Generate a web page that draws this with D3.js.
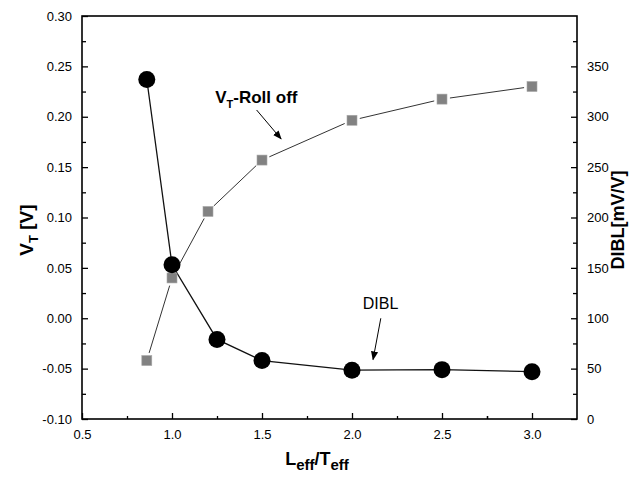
<!DOCTYPE html>
<html>
<head>
<meta charset="utf-8">
<script src="https://cdn.jsdelivr.net/npm/d3@7"></script>
<style>
  body { margin: 0; background: #fff; }
  svg { display: block; font-family: "Liberation Sans", Arial, sans-serif; }
</style>
</head>
<body>
<div id="chart"></div>
<script>
(function () {
    // data
    var vtX = [0.86, 1.0, 1.2, 1.5, 2.0, 2.5, 3.0]
    var vtVals = [-0.042, 0.040, 0.106, 0.157, 0.1965, 0.2175, 0.230]
    var diblX = [0.86, 1.0, 1.25, 1.5, 2.0, 2.5, 3.0]
    var diblVals = [337, 153, 79, 58, 48.5, 49, 47]

    var xTicks = [0.5, 1.0, 1.5, 2.0, 2.5, 3.0]
    var leftTicks = [-0.10, -0.05, 0.00, 0.05, 0.10, 0.15, 0.20, 0.25, 0.30]
    var rightTicks = [0, 50, 100, 150, 200, 250, 300, 350]

    var width = 637
    var height = 477
    var margin = { top: 16, right: 60, bottom: 58, left: 82 }
    var w = width - margin.left - margin.right
    var h = height - margin.top - margin.bottom

    var svg = d3.select("#chart")
        .append("svg")
        .attr("width", width)
        .attr("height", height)

    var g = svg.append("g")
        .attr("transform", "translate(" + margin.left + "," + margin.top + ")")

    var x = d3.scaleLinear().domain([0.5, 3.25]).range([0, w])
    var yL = d3.scaleLinear().domain([-0.10, 0.30]).range([h, 0])
    var yR = d3.scaleLinear().domain([0, 400]).range([h, 0])

    // minor ticks halfway between the major ones
    function halves(arr, last) {
        var out = []
        for (var i = 0; i < arr.length - 1; i++) out.push((arr[i] + arr[i + 1]) / 2)
        if (last !== undefined) out.push(last)
        return out
    }

    var fontSize = "13px"

    // bottom axis
    g.append("g")
        .attr("transform", "translate(0," + h + ")")
        .call(d3.axisBottom(x).tickValues(xTicks).tickSize(-6).tickSizeOuter(0)
            .tickPadding(11).tickFormat(function (d) { return d.toFixed(1) }))
        .call(function (a) { a.select(".domain").remove() })
    g.append("g")
        .attr("transform", "translate(0," + h + ")")
        .call(d3.axisBottom(x).tickValues(halves(xTicks, 3.25 - 0.0001).slice(0, -1).concat([2.75])).tickSize(-3).tickFormat(""))
        .call(function (a) { a.select(".domain").remove() })

    // left axis
    g.append("g")
        .call(d3.axisLeft(yL).tickValues(leftTicks).tickSize(-6).tickSizeOuter(0)
            .tickPadding(10).tickFormat(function (d) { return d.toFixed(2) }))
        .call(function (a) { a.select(".domain").remove() })
    g.append("g")
        .call(d3.axisLeft(yL).tickValues(halves(leftTicks)).tickSize(-4).tickFormat(""))
        .call(function (a) { a.select(".domain").remove() })

    // right axis
    g.append("g")
        .attr("transform", "translate(" + w + ",0)")
        .call(d3.axisRight(yR).tickValues(rightTicks).tickSize(-6).tickSizeOuter(0)
            .tickPadding(10).tickFormat(d3.format("d")))
        .call(function (a) { a.select(".domain").remove() })
    g.append("g")
        .attr("transform", "translate(" + w + ",0)")
        .call(d3.axisRight(yR).tickValues(halves(rightTicks, 375)).tickSize(-4).tickFormat(""))
        .call(function (a) { a.select(".domain").remove() })

    g.selectAll(".tick line").attr("stroke", "#000").attr("stroke-width", 1.3)
    g.selectAll(".tick text")
        .attr("fill", "#000")
        .style("font-size", fontSize)
        .style("font-family", "'Liberation Sans', Arial, sans-serif")

    // frame
    g.append("rect")
        .attr("width", w)
        .attr("height", h)
        .attr("fill", "none")
        .attr("stroke", "#000")
        .attr("stroke-width", 1.6)

    // VT roll off line: segments with gaps at the squares
    var vtPts = vtX.map(function (d, i) { return [x(d), yL(vtVals[i])] })
    var gap = 8
    for (var i = 0; i < vtPts.length - 1; i++) {
        var p = vtPts[i], q = vtPts[i + 1]
        var dx = q[0] - p[0], dy = q[1] - p[1]
        var len = Math.sqrt(dx * dx + dy * dy)
        var ux = dx / len, uy = dy / len
        g.append("line")
            .attr("x1", p[0] + ux * gap).attr("y1", p[1] + uy * gap)
            .attr("x2", q[0] - ux * gap).attr("y2", q[1] - uy * gap)
            .attr("stroke", "#333")
            .attr("stroke-width", 1)
    }

    // DIBL line
    var diblLine = d3.line()
        .x(function (d) { return x(d[0]) })
        .y(function (d) { return yR(d[1]) })
    g.append("path")
        .datum(diblX.map(function (d, i) { return [d, diblVals[i]] }))
        .attr("d", diblLine)
        .attr("fill", "none")
        .attr("stroke", "#111")
        .attr("stroke-width", 1.3)

    // squares
    var sq = 10
    g.selectAll(".sq")
        .data(vtX.map(function (d, i) { return [d, vtVals[i]] }))
        .enter()
        .append("rect")
        .attr("x", function (d) { return x(d[0]) - sq / 2 })
        .attr("y", function (d) { return yL(d[1]) - sq / 2 })
        .attr("width", sq)
        .attr("height", sq)
        .attr("fill", "#828282")
        .attr("stroke", "#a8a8a8")
        .attr("stroke-width", 0.6)

    // circles
    g.selectAll(".dot")
        .data(diblX.map(function (d, i) { return [d, diblVals[i]] }))
        .enter()
        .append("circle")
        .attr("cx", function (d) { return x(d[0]) })
        .attr("cy", function (d) { return yR(d[1]) })
        .attr("r", 8.5)
        .attr("fill", "#000")

    // arrows
    svg.append("defs").append("marker")
        .attr("id", "arr")
        .attr("viewBox", "0 0 10 10")
        .attr("refX", 9).attr("refY", 5)
        .attr("markerWidth", 9).attr("markerHeight", 9)
        .attr("markerUnits", "userSpaceOnUse")
        .attr("orient", "auto")
        .append("path")
        .attr("d", "M0,1 L10,5 L0,9 z")
        .attr("fill", "#000")

    g.append("line")
        .attr("x1", x(1.47)).attr("y1", yL(0.2067))
        .attr("x2", x(1.606)).attr("y2", yL(0.178))
        .attr("stroke", "#000").attr("stroke-width", 1)
        .attr("marker-end", "url(#arr)")

    g.append("line")
        .attr("x1", x(2.16)).attr("y1", yR(100))
        .attr("x2", x(2.117)).attr("y2", yR(59))
        .attr("stroke", "#000").attr("stroke-width", 1)
        .attr("marker-end", "url(#arr)")

    // annotation texts
    var vtLab = g.append("text")
        .attr("x", x(1.24))
        .attr("y", yL(0.2136))
        .style("font-size", "17px")
        .style("font-weight", "bold")
    vtLab.append("tspan").text("V")
    vtLab.append("tspan").attr("dy", 5).style("font-size", "11px").text("T")
    vtLab.append("tspan").attr("dy", -5).text("-Roll off")

    g.append("text")
        .attr("x", x(2.06))
        .attr("y", yR(109))
        .style("font-size", "16px")
        .text("DIBL")

    // axis titles
    var xt = svg.append("text")
        .attr("x", 317)
        .attr("y", 465)
        .attr("text-anchor", "middle")
        .style("font-size", "18px")
        .style("font-weight", "bold")
    xt.append("tspan").text("L")
    xt.append("tspan").attr("dy", 5).style("font-size", "15px").text("eff")
    xt.append("tspan").attr("dy", -5).text("/T")
    xt.append("tspan").attr("dy", 5).style("font-size", "15px").text("eff")

    var yt = svg.append("text")
        .attr("transform", "translate(33,230) rotate(-90)")
        .attr("text-anchor", "middle")
        .style("font-size", "19px")
        .style("font-weight", "bold")
    yt.append("tspan").text("V")
    yt.append("tspan").attr("dy", 5).style("font-size", "13px").text("T")
    yt.append("tspan").attr("dy", -5).text(" [V]")

    svg.append("text")
        .attr("transform", "translate(624,220) rotate(-90)")
        .attr("text-anchor", "middle")
        .style("font-size", "18px")
        .style("font-weight", "bold")
        .text("DIBL[mV/V]")
})();
</script>
</body>
</html>
